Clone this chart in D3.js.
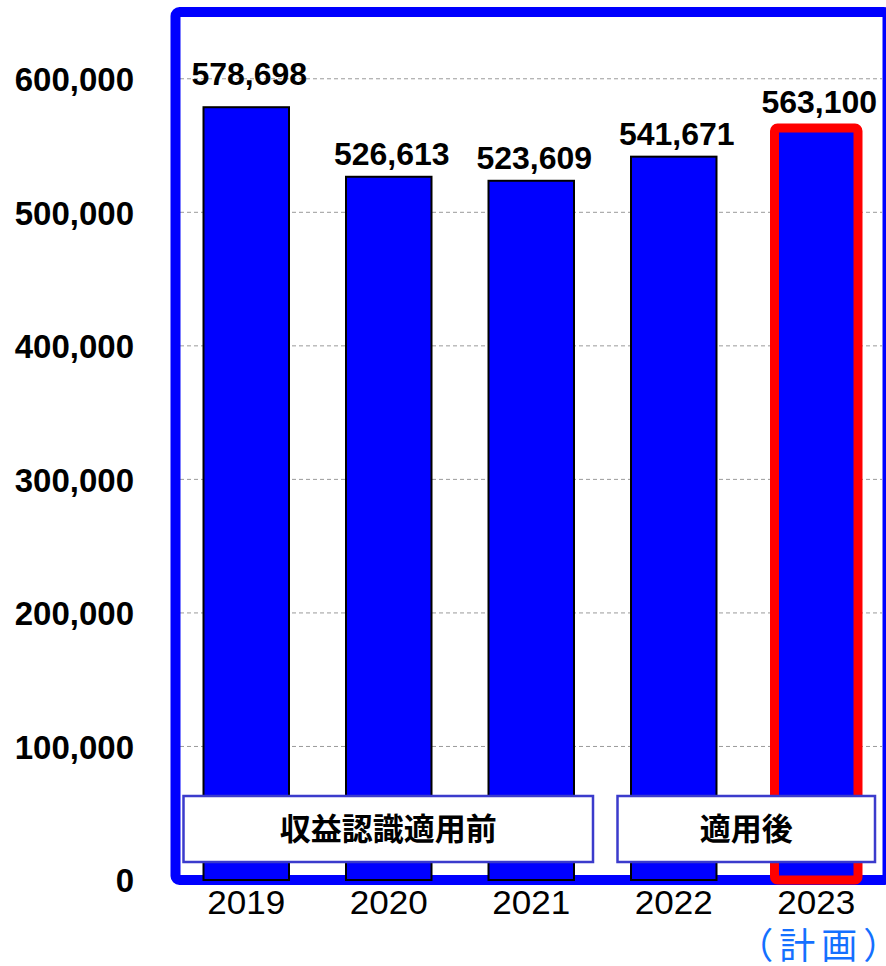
<!DOCTYPE html>
<html>
<head>
<meta charset="utf-8">
<script src="https://cdn.jsdelivr.net/npm/d3@7"></script>
<style>
  html, body { margin: 0; padding: 0; background: #fff; }
  svg { display: block; }
</style>
</head>
<body>
<svg id="chart" width="886" height="966"></svg>
<script>
// Yearly revenue figures (2023 is the plan)
const years = ["2019", "2020", "2021", "2022", "2023"];
const values = [578698, 526613, 523609, 541671, 563100];
const planYear = "2023";
const yTicks = [0, 100000, 200000, 300000, 400000, 500000, 600000];

// Accounting-standard periods shown as boxes along the bottom
const periodLabels = ["収益認識適用前", "適用後"];
const periodFirst = ["2019", "2022"];
const periodLast = ["2021", "2023"];

const planNote = "（計画）";

const latin = "'Liberation Sans', Arial, sans-serif";
const cjk = "'Noto Sans CJK JP', 'Noto Sans CJK SC', sans-serif";

const svg = d3.select("#chart");

const y = d3.scaleLinear().domain([0, 650000]).range([880, 12]);
const x = d3.scaleBand().domain(years).range([175, 887.5])
  .paddingInner(0.4).paddingOuter(0.2);

const fmt = d3.format(",");

// Dashed horizontal gridlines
svg.append("g").selectAll("line")
  .data(yTicks.filter(d => d > 0))
  .join("line")
  .attr("x1", 180).attr("x2", 882)
  .attr("y1", d => y(d)).attr("y2", d => y(d))
  .attr("stroke", "#9a9a9a").attr("stroke-width", 1)
  .attr("stroke-dasharray", "4,3");

// Blue frame around the plot area
svg.append("rect")
  .attr("x", 175.5).attr("y", y(650000))
  .attr("width", 712).attr("height", y(0) - y(650000))
  .attr("rx", 4)
  .attr("fill", "none").attr("stroke", "#0000ff").attr("stroke-width", 10);

// Y axis labels
const yAxis = d3.axisLeft(y).tickValues(yTicks).tickFormat(fmt).tickSize(0).tickPadding(0);
const gy = svg.append("g").attr("transform", "translate(134,0)").call(yAxis);
gy.select(".domain").remove();
gy.selectAll("text")
  .attr("font-family", latin).attr("font-size", 33).attr("font-weight", "bold")
  .attr("fill", "#000").attr("dy", "0.36em");

// Bars
const strokeW = d => d === planYear ? 9 : 2;
svg.append("g").selectAll("rect")
  .data(years.map((yr, i) => ({ yr, v: values[i] })))
  .join("rect")
  .attr("x", d => x(d.yr) + (d.yr === planYear ? 1 : 0))
  .attr("y", d => y(d.v))
  .attr("width", d => x.bandwidth() - (d.yr === planYear ? 2 : 0))
  .attr("height", d => y(0) - y(d.v))
  .attr("rx", d => d.yr === planYear ? 3 : 0)
  .attr("fill", "#0000ff")
  .attr("stroke", d => d.yr === planYear ? "#ff0000" : "#000")
  .attr("stroke-width", d => strokeW(d.yr));

// Value labels above the bars
svg.append("g").selectAll("text")
  .data(years.map((yr, i) => ({ yr, v: values[i], i })))
  .join("text")
  .attr("x", d => x(d.yr) + x.bandwidth() / 2 + 3)
  .attr("y", d => y(d.v) - (d.i === 0 ? 22 : 11 + strokeW(d.yr) / 2))
  .attr("text-anchor", "middle")
  .attr("font-family", latin).attr("font-size", 32).attr("font-weight", "bold")
  .attr("fill", "#000")
  .text(d => fmt(d.v));

// Period boxes
const boxes = svg.append("g").selectAll("g")
  .data(periodLabels.map((label, i) => ({ label, a: periodFirst[i], b: periodLast[i], i })))
  .join("g");
const boxX0 = d => x(d.a) - (d.i === 0 ? 20 : 13.5);
const boxX1 = d => x(d.b) + x.bandwidth() + (d.i === 0 ? 19 : 16);
boxes.append("rect")
  .attr("x", boxX0).attr("y", 796)
  .attr("width", d => boxX1(d) - boxX0(d)).attr("height", 66)
  .attr("fill", "#fff").attr("stroke", "#3b3bcc").attr("stroke-width", 2.5);
boxes.append("text")
  .attr("x", d => (boxX0(d) + boxX1(d)) / 2).attr("y", 829)
  .attr("dy", "0.36em")
  .attr("text-anchor", "middle")
  .attr("font-family", cjk).attr("font-size", 31).attr("font-weight", "bold")
  .attr("fill", "#000")
  .text(d => d.label);

// X axis labels
const xAxis = d3.axisBottom(x).tickSize(0).tickPadding(0);
const gx = svg.append("g").attr("transform", "translate(0,886)").call(xAxis);
gx.select(".domain").remove();
gx.selectAll("text")
  .attr("font-family", latin).attr("font-size", 33)
  .attr("textLength", 78).attr("lengthAdjust", "spacingAndGlyphs")
  .attr("fill", "#000").attr("dy", "0.84em");

// Plan note under the last year
svg.append("text")
  .attr("x", x(planYear) + x.bandwidth() / 2 + 5)
  .attr("y", 946).attr("dy", "0.36em")
  .attr("text-anchor", "middle")
  .attr("font-family", cjk).attr("font-size", 36)
  .attr("letter-spacing", 6)
  .attr("fill", "#1470ff")
  .text(planNote);
</script>
</body>
</html>
